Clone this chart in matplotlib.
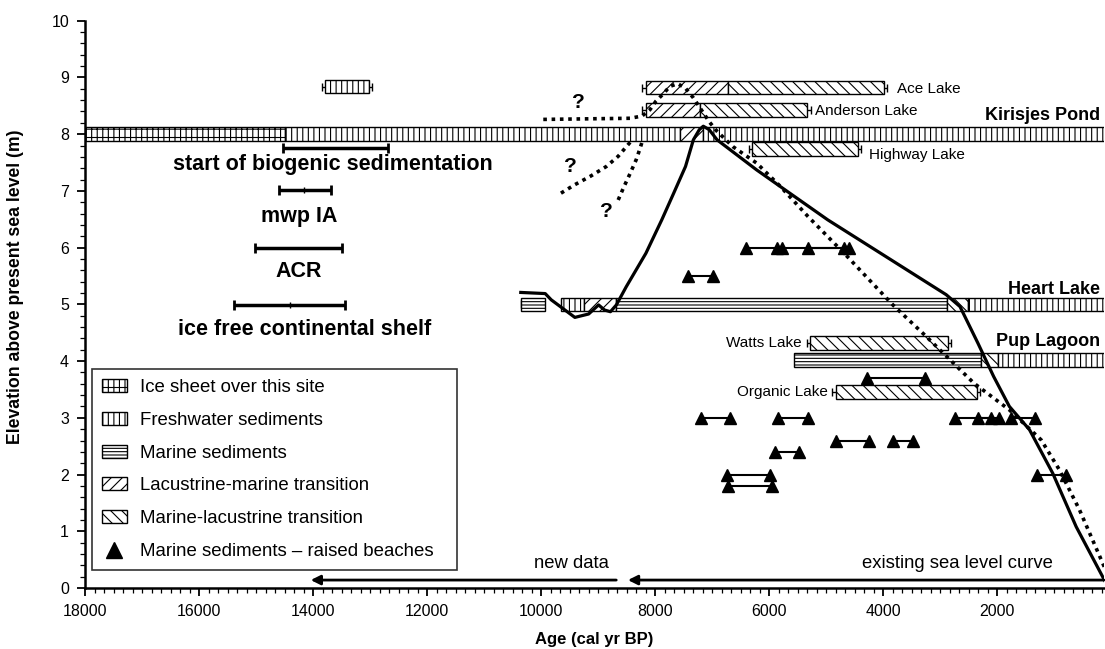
import matplotlib.pyplot as plt
from matplotlib.patches import Patch
from matplotlib.lines import Line2D

plt.rcParams['font.family'] = ['Liberation Sans', 'DejaVu Sans']
plt.rcParams['hatch.linewidth'] = 0.8

# facies -> hatch
hatches = {'ice': '|||--', 'fresh': '|||', 'marine': '-----',
           'lacmar': '///', 'marlac': '\\\\\\'}

# site cores: elevation, section boundaries (old -> young), facies of each section
kirisjes_y = 8.0
kirisjes_ages = [18000, 14500, 7560, 7150, 0]
kirisjes_facies = ['ice', 'fresh', 'lacmar', 'fresh']

heart_y = 5.0
heart_ages = [9650, 9250, 8680, 2870, 2510, 0]
heart_facies = ['fresh', 'lacmar', 'marine', 'marlac', 'fresh']
heart_base_ages = [10350, 9930]
heart_base_facies = ['marine']

pup_y = 4.02
pup_ages = [5560, 2280, 1990, 0]
pup_facies = ['marine', 'marlac', 'fresh']

icebox_y = 8.84
icebox_ages = [13790, 13020]
icebox_facies = ['fresh']

# other lakes (from literature)
lake_names = ['Ace Lake', 'Anderson Lake', 'Highway Lake', 'Watts Lake', 'Organic Lake']
lake_y = [8.82, 8.43, 7.74, 4.32, 3.46]
lake_ages = [[8160, 6720, 3990], [8160, 7210, 5330], [6290, 4440], [5280, 2860], [4830, 2350]]
lake_facies = [['lacmar', 'marlac'], ['lacmar', 'marlac'], ['marlac'], ['marlac'], ['marlac']]
lake_label_x = [3760, 5190, 4240, 5420, 4960]
lake_label_y = [8.72, 8.34, 7.57, 4.24, 3.39]
lake_label_side = ['left', 'left', 'left', 'right', 'right']

# age ranges of regional events
event_names = ['start of biogenic sedimentation', 'mwp IA', 'ACR', 'ice free continental shelf']
event_y = [7.76, 7.01, 5.99, 4.99]
event_old = [14520, 14600, 15010, 15380]
event_young = [12680, 13690, 13490, 13440]
event_mid = [None, 14150, None, 14400]
event_text_x = [13660, 14240, 14260, 14150]
event_text_y = [7.37, 6.45, 5.48, 4.46]

# raised beaches (age ranges)
beach_y = [6.0, 6.0, 6.0, 5.5, 3.0, 3.0, 3.0, 3.0, 3.0, 2.6, 2.6, 2.4, 2.0, 1.8, 2.0, 3.71]
beach_old = [6410, 5770, 5320, 7420, 7200, 5850, 2740, 2340, 1750, 4830, 3830, 5900, 6740, 6720, 1290, 4280]
beach_young = [5860, 4590, 4690, 6990, 6690, 5320, 1960, 2100, 1330, 4240, 3470, 5470, 5990, 5940, 790, 3270]

# new sea level curve (solid)
solid_age = [10355, 9926, 9821, 9406, 9164, 8990, 8885, 8782, 8678, 8505, 8160, 7881,
             7672, 7465, 7327, 7222, 7153, 7050, 6911, 6217, 4970, 2891, 2649, 2337,
             2060, 1783, 1430, 1021, 611, 0]
solid_elev = [5.21, 5.19, 5.08, 4.77, 4.83, 4.99, 4.90, 4.87, 4.99, 5.31, 5.90, 6.49,
              6.96, 7.43, 7.90, 8.08, 8.14, 8.08, 7.90, 7.37, 6.49, 5.17, 4.96, 4.32,
              3.73, 3.20, 2.79, 2.02, 1.08, -0.08]

# existing sea level curve (dotted) and its uncertain branches
dotted_age = [9960, 8435, 8228, 8090, 7985, 7846, 7743, 7604, 7465, 7327, 7188, 7050,
              6911, 6633, 6217, 5802, 5317, 4624, 3827, 3238, 2405, 1783, 1225, 904, 554, 0]
dotted_elev = [8.26, 8.28, 8.32, 8.43, 8.58, 8.72, 8.84, 8.89, 8.81, 8.64, 8.43, 8.22,
               8.05, 7.78, 7.49, 7.08, 6.55, 5.84, 4.99, 4.43, 3.61, 3.14, 2.61, 2.08, 1.38, 0.1]
branch_a_age = [9650, 9406, 9130, 8854, 8646, 8400]
branch_a_elev = [6.96, 7.11, 7.26, 7.43, 7.61, 7.90]
branch_b_age = [8646, 8542, 8435, 8330, 8262, 8228]
branch_b_elev = [6.84, 7.08, 7.31, 7.55, 7.75, 7.86]
qmark_age = [9335, 9490, 8854]
qmark_elev = [8.55, 7.43, 6.63]

site_names = ['Kirisjes Pond', 'Heart Lake', 'Pup Lagoon']
site_label_y = [8.25, 5.19, 4.27]

bar_h = 0.24


def draw_core(ax, y, ages, facies, h=bar_h):
    for i, f in enumerate(facies):
        ax.barh(y, ages[i] - ages[i + 1], left=ages[i + 1], height=h, color='white',
                edgecolor='k', hatch=hatches[f], lw=1.0, zorder=2)


fig = plt.figure(figsize=(11.05, 6.49), dpi=100)
ax = fig.add_axes([85 / 1105, 61 / 649, (1104 - 85) / 1105, 567.3 / 649])

draw_core(ax, kirisjes_y, kirisjes_ages, kirisjes_facies)
draw_core(ax, heart_y, heart_ages, heart_facies)
draw_core(ax, heart_y, heart_base_ages, heart_base_facies)
draw_core(ax, pup_y, pup_ages, pup_facies)
draw_core(ax, icebox_y, icebox_ages, icebox_facies, h=0.22)
ibox_mid = (icebox_ages[0] + icebox_ages[1]) / 2
ax.errorbar([ibox_mid], [icebox_y], xerr=[[icebox_ages[0] - ibox_mid + 60]],
            fmt='none', ecolor='k', capsize=3, lw=1, zorder=1)
ax.errorbar([heart_base_ages[0]], [heart_y], xerr=[[60], [0]], fmt='none', ecolor='k',
            capsize=3, lw=1, zorder=1)

for name, y, ages, fac, lx, ly, side in zip(lake_names, lake_y, lake_ages, lake_facies,
                                            lake_label_x, lake_label_y, lake_label_side):
    draw_core(ax, y, ages, fac)
    mid = (ages[0] + ages[-1]) / 2
    ax.errorbar([mid], [y], xerr=[[ages[0] - mid + 60]], fmt='none', ecolor='k',
                capsize=3, lw=1, zorder=1)
    ax.text(lx, ly, name, ha=side, va='baseline', fontsize=11)

for name, ly in zip(site_names, site_label_y):
    ax.text(190, ly, name, ha='right', va='baseline', fontsize=13, fontweight='bold')

for name, y, o, yg, m, tx, ty in zip(event_names, event_y, event_old, event_young, event_mid,
                                     event_text_x, event_text_y):
    mid = (o + yg) / 2
    ax.errorbar([mid], [y], xerr=[[o - mid], [mid - yg]], fmt='none', ecolor='k',
                capsize=3.3, capthick=2, lw=2.5)
    if m is not None:
        ax.plot([m], [y], marker='|', color='k', ms=4, mew=1)
    ax.text(tx, ty, name, ha='center', va='baseline', fontsize=15.5, fontweight='bold')

for y, o, yg in zip(beach_y, beach_old, beach_young):
    ax.plot([o, yg], [y, y], color='k', lw=1.5, zorder=3)
    ax.plot([o, yg], [y, y], ls='none', marker='^', color='k', ms=8, zorder=3)

ax.plot(solid_age, solid_elev, color='k', lw=2.3, zorder=4, solid_joinstyle='round')
dot = dict(color='k', lw=2.6, ls=(0, (1, 1.3)), dash_capstyle='butt', zorder=4)
ax.plot(dotted_age, dotted_elev, **dot)
ax.plot(branch_a_age, branch_a_elev, **dot)
ax.plot(branch_b_age, branch_b_elev, **dot)
for qx, qy in zip(qmark_age, qmark_elev):
    ax.text(qx, qy, '?', ha='center', va='center', fontsize=15, fontweight='bold')

# arrows along the bottom
ax.annotate('', xy=(14040, 0.14), xytext=(8680, 0.14),
            arrowprops=dict(arrowstyle='-|>', lw=2, color='k', mutation_scale=14,
                            shrinkA=0, shrinkB=0))
ax.annotate('', xy=(8475, 0.14), xytext=(123, 0.14),
            arrowprops=dict(arrowstyle='-|>', lw=2, color='k', mutation_scale=14,
                            shrinkA=0, shrinkB=0))
ax.text(9460, 0.36, 'new data', ha='center', va='baseline', fontsize=13.3)
ax.text(2690, 0.36, 'existing sea level curve', ha='center', va='baseline', fontsize=13.3)

handles = [Patch(facecolor='white', edgecolor='k', hatch=hatches['ice']),
           Patch(facecolor='white', edgecolor='k', hatch=hatches['fresh']),
           Patch(facecolor='white', edgecolor='k', hatch=hatches['marine']),
           Patch(facecolor='white', edgecolor='k', hatch=hatches['lacmar']),
           Patch(facecolor='white', edgecolor='k', hatch=hatches['marlac']),
           Line2D([], [], ls='none', marker='^', color='k', ms=11)]
labels = ['Ice sheet over this site', 'Freshwater sediments', 'Marine sediments',
          'Lacustrine-marine transition', 'Marine-lacustrine transition',
          'Marine sediments \u2013 raised beaches']
leg = ax.legend(handles, labels, loc='lower left', bbox_to_anchor=(0.007, 0.031, 0.358, 0.36),
                mode='expand', borderaxespad=0, fontsize=13.4, frameon=True, fancybox=False,
                edgecolor='k', handlelength=1.3, handleheight=0.7, handletextpad=0.7,
                labelspacing=0.85, borderpad=0.55)
leg.get_frame().set_linewidth(1.2)
leg.set_zorder(5)

ax.set_xlim(18000, 123)
ax.set_ylim(0, 10)
ax.set_xticks(range(2000, 18001, 2000))
ax.set_xticks([18000 - i * 2000 / 12 for i in range(1, 108)], minor=True)
ax.set_yticks(range(0, 11))
ax.set_yticks([i * 0.2 for i in range(51)], minor=True)
ax.tick_params(which='major', direction='out', length=5.5, width=1.3, labelsize=11.5, pad=6)
ax.tick_params(which='minor', direction='out', length=3.5, width=0.9)
for s in ['top', 'right']:
    ax.spines[s].set_visible(False)
for s in ['left', 'bottom']:
    ax.spines[s].set_linewidth(1.8)

ax.set_xlabel('Age (cal yr BP)', fontsize=12, fontweight='bold', va='bottom')
ax.xaxis.set_label_coords(0.5, -0.104)
ax.set_ylabel('Elevation above present sea level (m)', fontsize=12.7, fontweight='bold')
ax.yaxis.set_label_coords(-0.06, 0.531)

fig.savefig('out.png', dpi=100)
